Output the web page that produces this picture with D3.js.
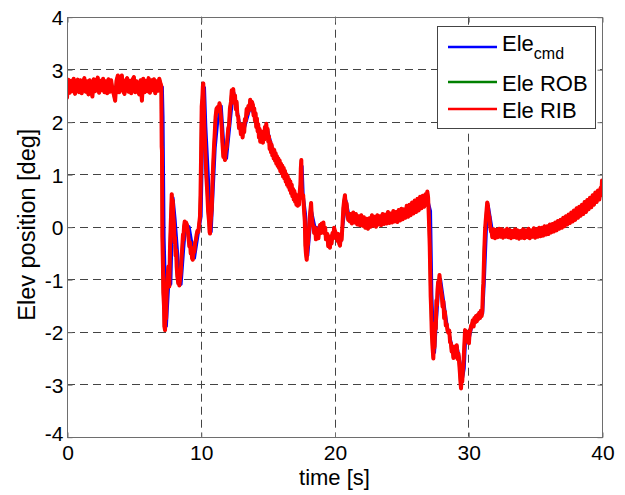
<!DOCTYPE html>
<html>
<head>
<meta charset="utf-8">
<script src="https://cdn.jsdelivr.net/npm/d3@7"></script>
<style>
  html, body { margin: 0; padding: 0; background: #fff; }
  svg { display: block; }
  text { font-family: "Liberation Sans", Arial, Helvetica, sans-serif; fill: #000; }
</style>
</head>
<body>
<svg id="chart" width="625" height="495"></svg>
<script>
// ---------- data ----------
const xTicks = [0, 10, 20, 30, 40];
const yTicks = [-4, -3, -2, -1, 0, 1, 2, 3, 4];
const xLabel = "time [s]";
const yLabel = "Elev position [deg]";
const seriesNames = ["Ele ROB", "Ele RIB"]; // first legend entry is Ele_cmd (subscript)
const seriesColors = ["#0000ff", "#008000", "#ff0000"];

// Commanded elevation [time s, deg]
const eleCmd = [
  [0,2.66],[7.15,2.66],[7.2,2.1],[7.22,1.5],[7.28,-0.2],[7.45,-1.9],[7.58,-1.3],[7.7,-0.8],[7.78,-1.1],
  [7.95,0.55],[8.1,0.15],[8.45,-1.05],[8.55,-1.1],[8.75,-0.4],[8.9,0.05],[9.15,0],[9.55,-0.6],[9.85,-0.1],
  [10.05,0.2],[10.2,2.3],[10.3,2.65],[10.4,1.9],[10.8,-0.1],[11.1,1.5],[11.4,2.3],[11.55,2.3],[11.8,1.35],
  [11.95,1.3],[12.4,2.45],[12.5,2.55],[13.0,1.85],[13.2,1.8],[13.75,2.3],[14.35,1.78],[14.75,1.7],
  [15.0,1.85],[15.5,1.38],[16.5,0.9],[17.35,0.48],[17.6,1.15],[17.68,0.6],[17.85,0.25],[18.02,-0.55],
  [18.3,0.3],[18.55,0],[19.1,-0.05],[19.75,-0.3],[20.05,-0.1],[20.5,-0.28],[20.88,0.5],[21.15,0.15],
  [22.5,0.08],[24,0.17],[25.5,0.3],[27.0,0.5],[27.2,0.3],[27.3,-1.3],[27.4,-2.0],[27.5,-2.4],
  [27.63,-1.85],[27.8,-1.2],[27.95,-1.0],[28.45,-1.9],[28.95,-2.42],[29.2,-2.3],[29.42,-2.6],
  [29.55,-2.95],[29.72,-2.7],[29.85,-2.0],[30.1,-2.12],[30.35,-1.82],[31.1,-1.65],[31.22,-1.05],
  [31.42,0.2],[31.52,0.4],[31.85,-0.12],[36,-0.08],[38,0.22],[40,0.65]
];

// Measured elevation, RIB [time s, deg]
const eleRIB = [
  [0.0,2.46],[0.1,2.80],[0.2,2.55],[0.3,2.78],[0.4,2.58],[0.5,2.82],[0.6,2.53],[0.7,2.76],[0.8,2.80],[0.9,2.56],
  [1.0,2.79],[1.1,2.54],[1.2,2.74],[1.3,2.83],[1.4,2.57],[1.5,2.77],[1.6,2.52],[1.7,2.79],[1.8,2.60],[1.9,2.48],
  [2.0,2.81],[2.1,2.58],[2.2,2.76],[2.3,2.84],[2.4,2.55],[2.5,2.78],[2.6,2.60],[2.7,2.82],[2.8,2.56],[2.9,2.77],
  [3.0,2.54],[3.1,2.81],[3.2,2.57],[3.3,2.79],[3.4,2.61],[3.5,2.52],[3.6,2.40],[3.7,2.78],[3.8,2.88],[3.9,2.56],
  [4.0,2.80],[4.1,2.88],[4.2,2.58],[4.3,2.53],[4.4,2.79],[4.5,2.83],[4.6,2.57],[4.7,2.78],[4.8,2.54],[4.9,2.80],
  [5.0,2.85],[5.1,2.56],[5.2,2.77],[5.3,2.60],[5.4,2.52],[5.5,2.79],[5.6,2.40],[5.7,2.82],[5.8,2.56],[5.9,2.78],
  [6.0,2.58],[6.1,2.83],[6.2,2.55],[6.3,2.79],[6.4,2.60],[6.5,2.81],[6.6,2.54],[6.7,2.77],[6.8,2.59],[6.9,2.82],
  [7.00,2.72],[7.05,2.68],[7.08,1.52],[7.10,1.45],[7.13,-0.19],[7.17,-0.70],[7.20,-1.25],[7.25,-1.50],
  [7.28,-1.90],[7.33,-1.97],[7.37,-1.55],[7.41,-1.75],[7.45,-1.30],[7.50,-1.00],[7.55,-0.85],[7.58,-0.76],
  [7.62,-1.05],[7.65,-1.14],[7.70,-0.40],[7.75,0.00],[7.79,0.30],[7.83,0.62],[7.87,0.40],[7.91,0.50],
  [7.95,0.19],[8.00,0.05],[8.04,-0.30],[8.07,-0.20],[8.12,-0.55],[8.16,-0.45],[8.20,-0.76],[8.25,-0.95],
  [8.32,-1.08],[8.36,-0.95],[8.40,-1.12],[8.45,-1.00],[8.50,-0.89],[8.55,-0.65],[8.62,-0.38],[8.67,-0.15],
  [8.70,-0.25],[8.75,0.00],[8.80,0.10],[8.85,-0.05],[8.90,0.08],[8.95,0.05],[9.02,-0.05],[9.08,-0.20],
  [9.15,-0.38],[9.20,-0.30],[9.25,-0.51],[9.30,-0.40],[9.35,-0.60],[9.40,-0.63],[9.46,-0.45],[9.52,-0.48],
  [9.58,-0.30],[9.64,-0.25],[9.69,-0.15],[9.75,-0.08],[9.82,-0.10],[9.88,0.05],[9.94,0.19],[9.98,0.60],
  [10.02,1.27],[10.05,1.90],[10.07,2.29],[10.12,2.45],[10.16,2.68],[10.19,2.73],[10.22,2.40],[10.27,1.90],
  [10.32,1.60],[10.37,1.27],[10.42,0.95],[10.49,0.64],[10.55,0.30],[10.62,0.10],[10.66,-0.10],[10.69,-0.13],
  [10.74,0.10],[10.82,0.32],[10.86,0.70],[10.89,0.95],[10.94,1.25],[10.99,1.52],[11.05,1.80],[11.11,2.10],
  [11.18,2.25],[11.26,2.28],[11.33,2.20],[11.40,2.35],[11.44,2.30],[11.50,2.10],[11.56,1.90],[11.62,1.60],
  [11.69,1.33],[11.75,1.40],[11.81,1.27],[11.87,1.45],[11.94,1.52],
  [12.00,1.70],[12.06,1.88],[12.11,1.92],[12.18,2.25],[12.26,2.38],[12.32,2.60],[12.38,2.56],[12.43,2.62],
  [12.50,2.36],[12.56,2.50],[12.62,2.24],[12.68,2.38],[12.74,2.12],[12.80,2.10],[12.86,1.88],[12.93,1.96],
  [13.00,1.76],[13.06,1.86],[13.13,1.70],[13.20,1.95],[13.25,1.80],[13.30,2.05],[13.37,2.02],[13.43,2.24],
  [13.50,2.15],[13.56,2.30],[13.63,2.22],[13.70,2.42],[13.76,2.25],[13.82,2.38],
  [13.90,2.32],[13.95,2.12],[14.00,2.25],[14.05,2.02],[14.10,2.16],[14.15,1.90],[14.20,2.06],[14.25,1.82],
  [14.30,1.95],[14.35,1.70],[14.40,1.86],[14.45,1.62],[14.50,1.82],[14.55,1.64],[14.60,1.80],[14.65,1.60],
  [14.70,1.82],[14.75,1.66],[14.80,1.90],[14.85,1.74],[14.90,1.96],[14.95,1.78],[15.00,1.86],[15.05,1.62],
  [15.10,1.72],[15.15,1.48],[15.20,1.62],[15.25,1.42],[15.30,1.56],[15.35,1.36],[15.40,1.48],[15.45,1.30],
  [15.50,1.46],[15.55,1.26],[15.60,1.40],[15.65,1.20],[15.70,1.34],[15.75,1.16],[15.80,1.30],[15.85,1.12],
  [15.90,1.26],[15.95,1.06],[16.00,1.20],[16.05,1.02],[16.10,1.16],[16.15,0.96],[16.20,1.12],[16.25,0.92],
  [16.30,1.06],[16.35,0.86],[16.40,1.00],[16.45,0.80],[16.50,0.96],[16.55,0.76],[16.60,0.90],[16.65,0.70],
  [16.70,0.86],[16.75,0.64],[16.80,0.80],[16.85,0.58],[16.90,0.72],[16.95,0.52],[17.00,0.68],[17.05,0.48],
  [17.10,0.62],[17.15,0.42],[17.20,0.56],[17.25,0.40],[17.30,0.52],[17.35,0.42],[17.40,0.66],[17.45,0.80],
  [17.48,1.10],[17.52,1.27],[17.55,0.70],
  [17.60,0.55],[17.66,0.60],[17.72,0.32],[17.78,0.10],[17.82,-0.35],[17.86,-0.50],[17.92,-0.63],[17.97,-0.40],
  [18.02,-0.32],[18.08,-0.10],[18.14,0.15],[18.20,0.32],[18.25,0.45],[18.30,0.20],[18.36,0.05],[18.42,0.00],
  [18.48,-0.12],[18.55,-0.02],[18.61,-0.24],[18.67,-0.15],[18.73,-0.08],[18.80,-0.22],[18.86,-0.02],[18.92,0.03],
  [18.98,-0.12],[19.05,0.06],[19.11,-0.06],[19.17,0.08],[19.23,-0.12],[19.30,-0.02],[19.36,-0.24],[19.41,-0.20],
  [19.47,-0.14],[19.53,-0.37],[19.60,-0.24],[19.66,-0.40],[19.72,-0.18],[19.78,-0.32],[19.85,-0.12],[19.91,-0.22],
  [19.97,-0.02],[20.03,-0.08],[20.10,-0.12],[20.16,-0.14],[20.22,-0.27],[20.28,-0.14],[20.35,-0.32],[20.41,-0.36],
  [20.47,-0.18],[20.53,-0.25],[20.60,0.05],[20.66,0.35],[20.72,0.50],[20.78,0.60],[20.84,0.40],[20.90,0.45],
  [20.96,0.22],[21.03,0.13],[21.09,0.24],[21.15,0.10],
  [21.2,0.24],[21.3,0.06],[21.4,0.27],[21.5,0.08],[21.6,0.24],[21.7,0.04],[21.8,0.20],[21.9,0.03],
  [22.0,0.22],[22.1,0.02],[22.2,0.18],[22.3,-0.02],[22.4,0.15],[22.5,-0.04],[22.6,0.16],[22.7,0.00],[22.8,0.22],[22.9,0.02],
  [23.0,0.19],[23.1,0.00],[23.2,0.22],[23.3,0.04],[23.4,0.20],[23.5,0.03],[23.6,0.24],[23.7,0.05],[23.8,0.23],[23.9,0.06],
  [24.0,0.28],[24.1,0.07],[24.2,0.25],[24.3,0.08],[24.4,0.30],[24.5,0.10],[24.6,0.28],[24.7,0.09],[24.8,0.32],[24.9,0.12],
  [25.0,0.34],[25.1,0.14],[25.2,0.33],[25.3,0.17],[25.4,0.40],[25.5,0.19],[25.6,0.42],[25.7,0.22],[25.8,0.46],[25.9,0.25],
  [26.0,0.50],[26.1,0.28],[26.2,0.53],[26.3,0.31],[26.4,0.57],[26.5,0.35],[26.6,0.59],[26.7,0.38],[26.8,0.62],[26.9,0.42],
  [26.94,0.67],[27.00,0.55],
  [27.07,0.06],[27.12,-0.38],[27.16,-0.90],[27.19,-1.33],[27.23,-1.60],[27.27,-2.00],[27.33,-2.30],[27.39,-2.51],
  [27.44,-2.10],[27.48,-2.30],[27.52,-1.84],[27.57,-1.95],[27.62,-1.40],[27.66,-1.50],[27.70,-1.21],[27.75,-1.05],
  [27.80,-1.10],[27.85,-0.92],[27.90,-1.08],[27.95,-1.20],[28.02,-1.30],[28.08,-1.52],[28.14,-1.42],[28.20,-1.74],
  [28.26,-1.62],[28.32,-1.88],[28.39,-1.86],[28.45,-1.98],[28.51,-2.02],[28.58,-1.98],[28.64,-2.20],[28.70,-2.22],
  [28.76,-2.38],[28.82,-2.28],[28.89,-2.50],[28.95,-2.38],[29.01,-2.28],[29.08,-2.48],[29.14,-2.26],[29.20,-2.52],
  [29.27,-2.42],[29.33,-2.62],[29.38,-2.80],[29.43,-3.00],[29.46,-3.08],[29.50,-2.90],[29.55,-2.95],[29.60,-2.73],
  [29.64,-2.60],[29.70,-2.30],[29.76,-1.97],[29.82,-2.08],[29.88,-2.10],[29.94,-2.00],[30.00,-2.20],[30.05,-2.22],
  [30.10,-2.03],[30.16,-1.97],[30.22,-1.88],[30.28,-1.86],[30.34,-1.78],[30.40,-1.90],[30.46,-1.74],[30.52,-1.82],
  [30.58,-1.70],[30.64,-1.80],[30.70,-1.68],[30.76,-1.76],[30.82,-1.64],[30.88,-1.74],[30.94,-1.60],[31.00,-1.70],
  [31.05,-1.60],[31.10,-1.20],[31.13,-1.08],[31.17,-0.70],[31.20,-0.44],[31.25,-0.10],[31.30,0.10],[31.33,0.19],
  [31.38,0.35],[31.42,0.46],[31.45,0.44],[31.50,0.30],[31.55,0.20],[31.58,0.19],[31.62,0.05],[31.67,-0.05],
  [31.71,-0.10],[31.75,-0.10],
  [31.8,-0.20],[31.9,-0.05],[32.0,-0.22],[32.1,-0.06],[32.2,-0.20],[32.3,-0.04],[32.4,-0.19],[32.5,-0.05],[32.6,-0.21],[32.7,-0.07],
  [32.8,-0.19],[32.9,-0.04],[33.0,-0.20],[33.1,-0.06],[33.2,-0.22],[33.3,-0.08],[33.4,-0.20],[33.5,-0.05],[33.6,-0.21],[33.7,-0.07],
  [33.8,-0.23],[33.9,-0.08],[34.0,-0.21],[34.1,-0.05],[34.2,-0.22],[34.3,-0.07],[34.4,-0.20],[34.5,-0.04],[34.6,-0.22],[34.7,-0.07],
  [34.8,-0.19],[34.9,-0.03],[35.0,-0.21],[35.1,-0.05],[35.2,-0.19],[35.3,-0.02],[35.4,-0.18],[35.5,-0.02],[35.6,-0.17],[35.7,0.01],
  [35.8,-0.15],[35.9,0.01],[36.0,-0.14],[36.1,0.04],[36.2,-0.11],[36.3,0.05],[36.4,-0.09],[36.5,0.08],[36.6,-0.07],[36.7,0.11],
  [36.8,-0.04],[36.9,0.13],[37.0,-0.02],[37.1,0.17],[37.2,0.01],[37.3,0.20],[37.4,0.04],[37.5,0.23],[37.6,0.07],[37.7,0.27],
  [37.8,0.10],[37.9,0.31],[38.0,0.13],[38.1,0.35],[38.2,0.17],[38.3,0.38],[38.4,0.21],[38.5,0.42],[38.6,0.24],[38.7,0.47],
  [38.8,0.28],[38.9,0.51],[39.0,0.33],[39.1,0.55],[39.2,0.37],[39.3,0.60],[39.4,0.42],[39.5,0.65],[39.6,0.47],[39.7,0.69],
  [39.8,0.52],[39.9,0.74],[39.95,0.60],[40.0,0.88]
];

// Measured elevation, ROB: coincides with RIB in the picture (hidden beneath it)
const eleROB = eleRIB;

// ---------- drawing ----------
const W = 625, H = 495;
const plot = { left: 67, right: 602, top: 16.7, bottom: 436.7 };
const svg = d3.select("#chart");
svg.append("rect").attr("width", W).attr("height", H).attr("fill", "#fff");

const x = d3.scaleLinear().domain([0, 40]).range([plot.left, plot.right]);
const y = d3.scaleLinear().domain([-4, 4]).range([plot.bottom, plot.top]);

const fs = 21;
const fmt = d => String(d);

// grid
const grid = svg.append("g").attr("stroke", "#444").attr("stroke-width", 1).attr("stroke-dasharray", "8,5");
grid.selectAll("line.gx").data(xTicks.filter(t => t > 0 && t < 40)).enter().append("line")
  .attr("x1", d => Math.round(x(d)) + 0.5).attr("x2", d => Math.round(x(d)) + 0.5)
  .attr("y1", plot.top).attr("y2", plot.bottom);
grid.selectAll("line.gy").data(yTicks.filter(t => t > -4 && t < 4)).enter().append("line")
  .attr("y1", d => Math.round(y(d)) + 0.5).attr("y2", d => Math.round(y(d)) + 0.5)
  .attr("x1", plot.left).attr("x2", plot.right);

// clip
svg.append("clipPath").attr("id", "clip").append("rect")
  .attr("x", plot.left).attr("y", plot.top)
  .attr("width", plot.right - plot.left).attr("height", plot.bottom - plot.top);

const line = d3.line().x(d => x(d[0])).y(d => y(d[1]));
const lines = svg.append("g").attr("clip-path", "url(#clip)").attr("fill", "none")
  .attr("stroke-linejoin", "round").attr("stroke-linecap", "round");
lines.append("path").datum(eleCmd).attr("d", line).attr("stroke", seriesColors[0]).attr("stroke-width", 2.5);
lines.append("path").datum(eleROB).attr("d", line).attr("stroke", seriesColors[1]).attr("stroke-width", 3);
lines.append("path").datum(eleRIB).attr("d", line).attr("stroke", seriesColors[2]).attr("stroke-width", 4);

// axes box
const axG = svg.append("g");
axG.append("rect")
  .attr("x", plot.left + 0.5).attr("y", Math.round(plot.top) + 0.5)
  .attr("width", plot.right - plot.left).attr("height", Math.round(plot.bottom) - Math.round(plot.top))
  .attr("fill", "none").attr("stroke", "#6e6e6e").attr("stroke-width", 1);

// axes with d3 (ticks inward)
const xAxisB = d3.axisBottom(x).tickValues(xTicks).tickSize(-5).tickPadding(8).tickFormat(fmt);
const gxb = svg.append("g").attr("transform", `translate(0.5,${Math.round(plot.bottom) + 0.5})`).call(xAxisB);
const xAxisT = d3.axisTop(x).tickValues(xTicks).tickSize(-5).tickFormat("");
const gxt = svg.append("g").attr("transform", `translate(0.5,${Math.round(plot.top) + 0.5})`).call(xAxisT);
const yAxisL = d3.axisLeft(y).tickValues(yTicks).tickSize(-5).tickPadding(4).tickFormat(fmt);
const gyl = svg.append("g").attr("transform", `translate(${plot.left + 0.5},0.5)`).call(yAxisL);
const yAxisR = d3.axisRight(y).tickValues(yTicks).tickSize(-5).tickFormat("");
const gyr = svg.append("g").attr("transform", `translate(${plot.right + 0.5},0.5)`).call(yAxisR);
[gxb, gxt, gyl, gyr].forEach(g => {
  g.select(".domain").remove();
  g.selectAll(".tick line").attr("stroke", "#6e6e6e");
  g.selectAll("text").attr("font-size", fs).attr("font-family", "Liberation Sans, Arial, sans-serif").attr("fill", "#000");
});
gxb.selectAll("text").attr("dy", "0.71em");
gyl.selectAll("text").attr("dy", "0.36em");
gyl.selectAll(".tick").filter(d => d === -4).select("text").attr("dy", "0.15em");

// axis titles
svg.append("text").attr("x", (plot.left + plot.right) / 2).attr("y", 485)
  .attr("text-anchor", "middle").attr("font-size", 22).text(xLabel);
svg.append("text").attr("transform", `translate(35,${(plot.top + plot.bottom) / 2 - 2}) rotate(-90)`)
  .attr("text-anchor", "middle").attr("font-size", 23.5).text(yLabel);

// legend
const lg = svg.append("g");
lg.append("rect").attr("x", 437.5).attr("y", 26.5).attr("width", 158).attr("height", 102)
  .attr("fill", "#fff").attr("stroke", "#444").attr("stroke-width", 1);
const rows = [47, 82, 109];
rows.forEach((ry, i) => {
  lg.append("line").attr("x1", 448).attr("x2", 497).attr("y1", ry).attr("y2", ry)
    .attr("stroke", seriesColors[i]).attr("stroke-width", 2.5);
});
const t0 = lg.append("text").attr("x", 502).attr("y", 51).attr("font-size", 22);
t0.append("tspan").text("Ele");
t0.append("tspan").attr("font-size", 16).attr("dy", 8).text("cmd");
lg.append("text").attr("x", 502).attr("y", 90.5).attr("font-size", 22).text(seriesNames[0]);
lg.append("text").attr("x", 502).attr("y", 118).attr("font-size", 22).text(seriesNames[1]);
</script>
</body>
</html>
